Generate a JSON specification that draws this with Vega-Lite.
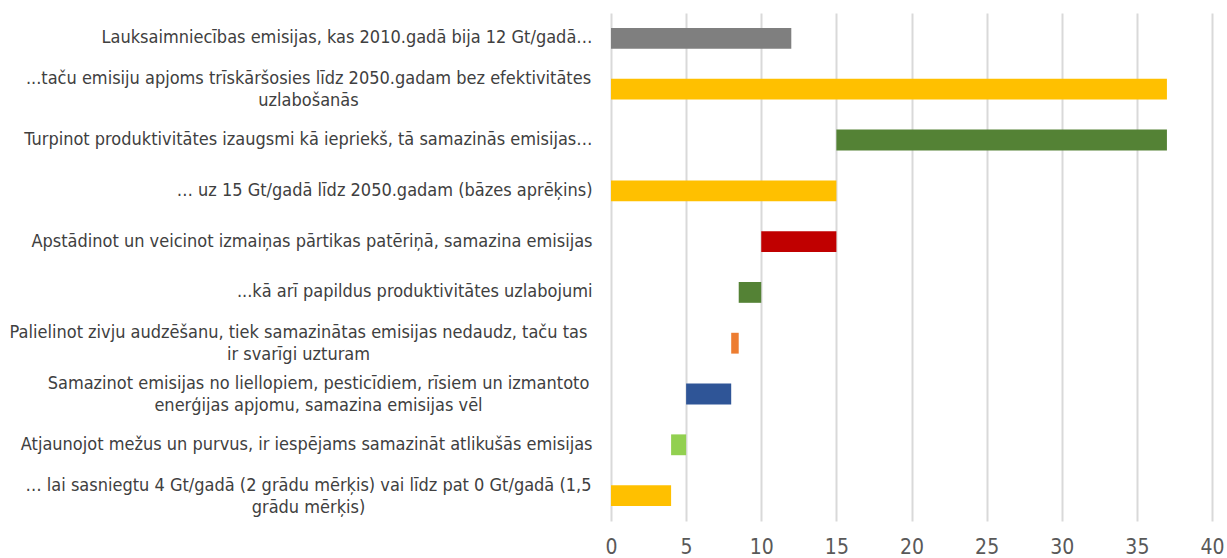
{
  "$schema": "https://vega.github.io/schema/vega-lite/v6.json",
  "autosize": "none",
  "width": 601,
  "height": 508,
  "padding": {"left": 611, "top": 13, "right": 15, "bottom": 37},
  "background": "white",
  "data": {
    "values": [
      {"label": "Lauksaimniecības emisijas, kas 2010.gadā bija 12 Gt/gadā…", "start": 0, "end": 12, "kind": "2010"},
      {"label": "...taču emisiju apjoms trīskāršosies līdz 2050.gadam bez efektivitātes\nuzlabošanās", "start": 0, "end": 37, "kind": "kopā"},
      {"label": "Turpinot produktivitātes izaugsmi kā iepriekš, tā samazinās emisijas…", "start": 15, "end": 37, "kind": "produktivitāte"},
      {"label": "… uz 15 Gt/gadā līdz 2050.gadam (bāzes aprēķins)", "start": 0, "end": 15, "kind": "kopā"},
      {"label": "Apstādinot un veicinot izmaiņas pārtikas patēriņā, samazina emisijas", "start": 10, "end": 15, "kind": "patēriņš"},
      {"label": "...kā arī papildus produktivitātes uzlabojumi", "start": 8.5, "end": 10, "kind": "produktivitāte"},
      {"label": "Palielinot zivju audzēšanu, tiek samazinātas emisijas nedaudz, taču tas\nir svarīgi uzturam", "start": 8, "end": 8.5, "kind": "zivis"},
      {"label": "Samazinot emisijas no liellopiem, pesticīdiem, rīsiem un izmantoto\nenerģijas apjomu, samazina emisijas vēl", "start": 5, "end": 8, "kind": "saimniecības"},
      {"label": "Atjaunojot mežus un purvus, ir iespējams samazināt atlikušās emisijas", "start": 4, "end": 5, "kind": "meži"},
      {"label": "… lai sasniegtu 4 Gt/gadā (2 grādu mērķis) vai līdz pat 0 Gt/gadā (1,5\ngrādu mērķis)", "start": 0, "end": 4, "kind": "kopā"}
    ]
  },
  "mark": {"type": "bar"},
  "encoding": {
    "y": {
      "field": "label",
      "type": "nominal",
      "sort": null,
      "title": null,
      "scale": {"paddingInner": 0.59, "paddingOuter": 0.295},
      "axis": {
        "domain": false,
        "ticks": false,
        "grid": false,
        "labelExpr": "split(datum.label, '\\n')",
        "labelFont": "DejaVu Sans Condensed",
        "labelFontSize": 18,
        "labelColor": "#404040",
        "labelLimit": 900,
        "labelLineHeight": 22,
        "labelAlign": {"condition": {"test": "indexof(datum.value, '\\n') >= 0", "value": "center"}, "value": "right"},
        "labelPadding": {
          "condition": [
            {"test": "indexof(datum.value, 'Palielinot') == 0", "value": 313},
            {"test": "indexof(datum.value, 'Samazinot') == 0", "value": 293},
            {"test": "indexof(datum.value, '\\n') >= 0", "value": 303}
          ],
          "value": 19
        },
        "labelOffset": {"condition": {"test": "indexof(datum.value, '\\n') >= 0", "value": -10}, "value": 0}
      }
    },
    "x": {
      "field": "start",
      "type": "quantitative",
      "title": null,
      "scale": {"domain": [0, 40], "nice": false},
      "axis": {
        "values": [0, 5, 10, 15, 20, 25, 30, 35, 40],
        "domain": false,
        "ticks": false,
        "grid": true,
        "gridColor": "#d9d9d9",
        "gridWidth": 2,
        "labelFlush": false,
        "labelFont": "DejaVu Sans Condensed",
        "labelFontSize": 21,
        "labelColor": "#595959",
        "labelPadding": 15
      }
    },
    "x2": {"field": "end"},
    "color": {
      "field": "kind",
      "type": "nominal",
      "legend": null,
      "scale": {
        "domain": ["2010", "kopā", "produktivitāte", "patēriņš", "zivis", "saimniecības", "meži"],
        "range": ["#7f7f7f", "#ffc000", "#548235", "#c00000", "#ed7d31", "#2f5597", "#92d050"]
      }
    }
  },
  "config": {"view": {"stroke": null}}
}
